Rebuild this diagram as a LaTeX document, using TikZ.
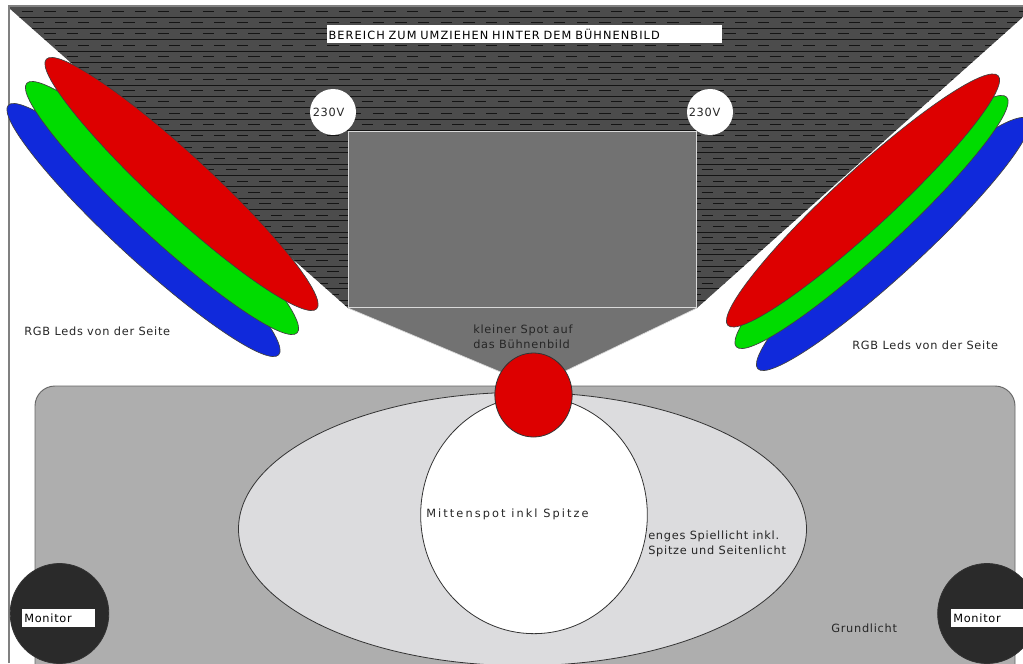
\documentclass[tikz,border=0pt]{standalone}
\usepackage{fontspec}
\setmainfont{DejaVu Sans}
\newfontfamily\widefont[LetterSpace=6.5]{DejaVu Sans}
\newfontfamily\capsfont[LetterSpace=9.5]{DejaVu Sans}
\newfontfamily\widerfont[LetterSpace=18.5]{DejaVu Sans}
\usepackage{xcolor}
\usetikzlibrary{shapes.geometric, positioning}
\definecolor{ledred}{HTML}{DD0000}
\definecolor{ledgreen}{HTML}{00DC00}
\definecolor{ledblue}{HTML}{1029DB}
\definecolor{backstage}{HTML}{4C4C4C}
\definecolor{stripe}{HTML}{141414}
\definecolor{stagegray}{HTML}{727272}
\definecolor{floorgray}{HTML}{AEAEAE}
\definecolor{spielgray}{HTML}{DCDCDE}
\definecolor{monitorgray}{HTML}{2A2A2A}

\begin{document}
\begin{tikzpicture}[
  x=0.75pt, y=-0.75pt,
  led/.style={ellipse, draw=black!75, line width=0.5pt, inner sep=0pt, minimum width=276pt, minimum height=43pt},
  spot/.style={ellipse, draw=black!80, line width=0.6pt, inner sep=0pt},
  socket/.style={circle, fill=white, inner sep=0pt, minimum size=34.5pt},
  lbl/.style={font=\widefont\fontsize{8.5}{11.2}\selectfont, text=black!85, inner sep=0pt, anchor=west, align=left},
  tag/.style={fill=white, inner sep=0pt, anchor=west, font=\widefont\fontsize{8.5}{11}\selectfont},
]
\clip (0,0) rectangle (1023,663);
\fill[white] (0,0) rectangle (1023,663);

% backstage area with its stripes
\begin{scope}
  \clip (9,6) -- (1023,6) -- (1023,17) -- (697,308) -- (348,308) -- (9,8) -- cycle;
  \fill[backstage] (0,0) rectangle (1023,320);
  \foreach \row in {0,...,27}{
    \draw[stripe, line width=0.7pt] (0,{17+11.33*\row}) -- (1023,{17+11.33*\row});
    \pgfmathsetmacro{\shift}{mod(\row,2)*11.3}
    \draw[stripe, line width=0.7pt, dash pattern=on 8.5pt off 8.5pt] ({21.5+\shift},{11.3+11.33*\row}) -- (1023,{11.3+11.33*\row});
  }
\end{scope}
\draw[gray, line width=1.4pt] (9,663) -- (9,6) -- (1023,6);

% stage picture and the light in front of it
\fill[stagegray] (348,308) -- (697,308) -- (534,386) -- cycle;
\draw[white!85!black, line width=0.5pt] (534,386) -- (348,308);
\draw[white!85!black, line width=0.5pt] (534,386) -- (697,308);
\node[draw=white!85!black, fill=stagegray, line width=0.7pt, minimum width=261.5pt, minimum height=132.5pt, inner sep=0pt] (picture) at (522.5,219.5) {};

\node[socket] (socketL) at (333,112) {};
\node[socket] (socketR) at (710,112) {};
\node[lbl] at (312.5,112) {230V};
\node[lbl] at (688.5,112) {230V};

% leds left
\node[led, fill=ledblue, rotate=-42.7] (blueL) at (143.5,230) {};
\node[led, fill=ledgreen, rotate=-42.7] (greenL) at (162,208) {};
\node[led, fill=ledred, rotate=-42.7] (redL) at (181.5,184) {};
% leds right
\node[led, fill=ledblue, rotate=42.7] (blueR) at (893,244) {};
\node[led, fill=ledgreen, rotate=42.7] (greenR) at (871.5,222) {};
\node[led, fill=ledred, rotate=42.7] (redR) at (863,200.5) {};

\node[tag, font=\capsfont\fontsize{8.5}{11}\selectfont, minimum width=296pt, minimum height=13.5pt, text width=296pt] (backstagelabel) at (327,34) {\hspace{1pt}BEREICH ZUM UMZIEHEN HINTER DEM BÜHNENBILD};

% floor
\draw[fill=floorgray, draw=black!60, line width=0.7pt, rounded corners=15pt] (35,386) rectangle (1015,720);
\node[spot, fill=spielgray, minimum width=426pt, minimum height=205pt] (spiel) at (522.5,529) {};
\node[spot, fill=white, minimum width=170pt, minimum height=178pt] (mitte) at (534,515) {};
\node[spot, fill=ledred, minimum width=58pt, minimum height=63pt] (kopf) at (533.5,395) {};

\node[spot, fill=monitorgray, minimum width=74pt, minimum height=75pt] (monL) at (59.5,613.5) {};
\node[spot, fill=monitorgray, minimum width=74pt, minimum height=75pt] (monR) at (987,613.5) {};
\node[tag, minimum width=54.5pt, minimum height=14pt, text width=54.5pt] at (22,618) {\hspace{1.5pt}Monitor};
\node[tag, minimum width=54.5pt, minimum height=14pt, text width=54.5pt] at (951,618) {\hspace{1.5pt}Monitor};

\node[lbl] at (24,331) {RGB Leds von der Seite};
\node[lbl] at (852,345) {RGB Leds von der Seite};
\node[lbl] at (473,337) {kleiner Spot auf\\das Bühnenbild};
\node[lbl, font=\widerfont\fontsize{8.5}{11.2}\selectfont] at (426,514) {Mittenspot inkl Spitze};
\node[lbl] at (648,544) {enges Spiellicht inkl.\\Spitze und Seitenlicht};
\node[lbl] at (831,628.5) {Grundlicht};
\end{tikzpicture}
\end{document}
